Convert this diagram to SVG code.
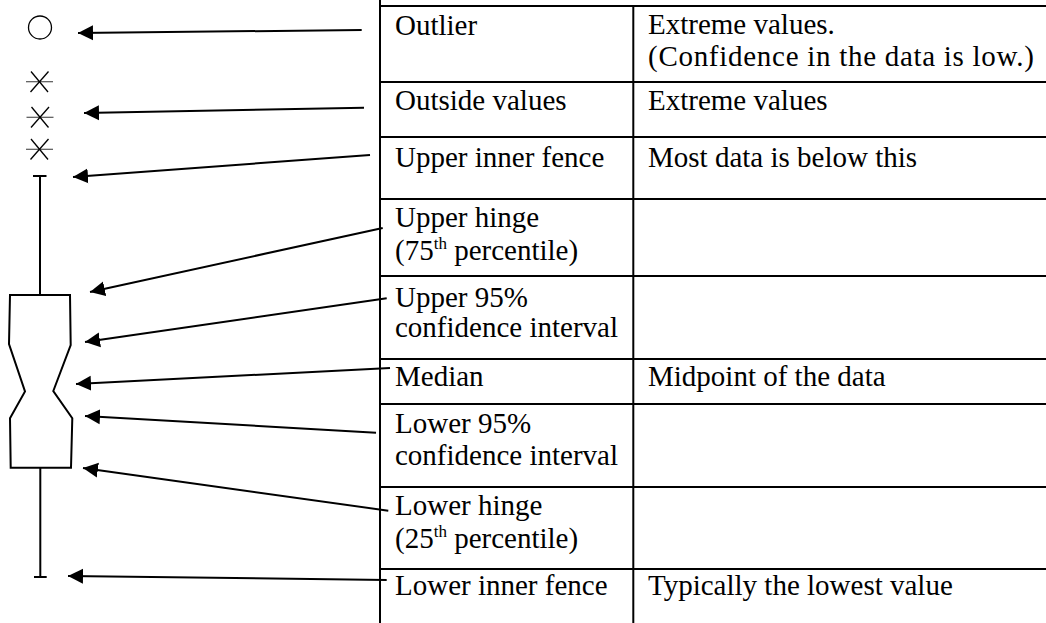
<svg xmlns="http://www.w3.org/2000/svg" width="1046" height="623" viewBox="0 0 1046 623">
<style>
text{font-family:'Liberation Serif','DejaVu Serif',serif;font-size:29px;fill:#000}
.sup{font-size:17px}
.grid{stroke:#000;stroke-width:2;fill:none}
.shape{stroke:#000;stroke-width:2;fill:none}
.thin{stroke:#000;stroke-width:1.3;fill:none}
.hz{stroke:#555;stroke-width:1.2}
.conn line{stroke:#000;stroke-width:2;marker-end:url(#ah)}
</style>
<defs>
<marker id="ah" markerUnits="userSpaceOnUse" markerWidth="16" markerHeight="16" viewBox="0 0 16 16" refX="15" refY="8" orient="auto">
<path d="M0,0.5 L15,8 L0,15.5 z" fill="#000"/>
</marker>
</defs>
<rect width="1046" height="623" fill="#fff"/>

<g id="boxplot">
<g id="outlier-symbol"><circle class="thin" cx="40" cy="27.5" r="11.5"/></g>
<g id="outside-symbols">
<g id="ast1"><line class="hz" x1="26" y1="81.7" x2="53" y2="81.7"/><line class="thin" x1="31" y1="71.5" x2="48" y2="92"/><line class="thin" x1="48.5" y1="71.5" x2="30.5" y2="92"/></g>
<g id="ast2"><line class="hz" x1="26.5" y1="117.3" x2="53.5" y2="117.3"/><line class="thin" x1="31.5" y1="107" x2="48.5" y2="127.5"/><line class="thin" x1="49" y1="107" x2="31" y2="127.5"/></g>
<g id="ast3"><line class="hz" x1="26" y1="149.3" x2="53" y2="149.3"/><line class="thin" x1="31" y1="139" x2="48" y2="159.5"/><line class="thin" x1="48.5" y1="139" x2="30.5" y2="159.5"/></g>
</g>
<g id="upper-whisker"><line class="shape" x1="33" y1="176" x2="46.5" y2="176"/><line class="shape" x1="40" y1="176" x2="40" y2="295"/></g>
<g id="notched-box"><polygon class="shape" points="10,295 70,295 70.7,345 53.3,391 72.3,418.3 71,467.7 10.7,467.7 10,418.3 25,391.5 9,344"/></g>
<g id="lower-whisker"><line class="shape" x1="40.3" y1="467.7" x2="40.3" y2="577"/><line class="shape" x1="34" y1="577" x2="46.7" y2="577"/></g>
</g>

<g id="table">
<g id="table-grid">
<line class="grid" x1="380" y1="0" x2="380" y2="623"/>
<line class="grid" x1="633.3" y1="6" x2="633.3" y2="623"/>
<line class="grid" x1="379" y1="6" x2="1046" y2="6"/>
<line class="grid" x1="380" y1="82" x2="1046" y2="82"/>
<line class="grid" x1="380" y1="137" x2="1046" y2="137"/>
<line class="grid" x1="380" y1="199" x2="1046" y2="199"/>
<line class="grid" x1="380" y1="276" x2="1046" y2="276"/>
<line class="grid" x1="380" y1="359" x2="1046" y2="359"/>
<line class="grid" x1="380" y1="404" x2="1046" y2="404"/>
<line class="grid" x1="380" y1="487" x2="1046" y2="487"/>
<line class="grid" x1="380" y1="569" x2="1046" y2="569"/>
</g>
<g id="row-outlier"><text x="395" y="35">Outlier</text><text x="648" y="33.5">Extreme values.</text><text x="648" y="65.8" textLength="386" lengthAdjust="spacing">(Confidence in the data is low.)</text></g>
<g id="row-outside"><text x="395" y="110">Outside values</text><text x="648" y="110">Extreme values</text></g>
<g id="row-upper-fence"><text x="395" y="167">Upper inner fence</text><text x="648" y="167">Most data is below this</text></g>
<g id="row-upper-hinge"><text x="395" y="227">Upper hinge</text><text x="395" y="260">(75<tspan class="sup" dy="-11">th</tspan><tspan dy="11"> percentile)</tspan></text></g>
<g id="row-upper-ci"><text x="395" y="307">Upper 95%</text><text x="395" y="337">confidence interval</text></g>
<g id="row-median"><text x="395" y="386">Median</text><text x="648" y="386">Midpoint of the data</text></g>
<g id="row-lower-ci"><text x="395" y="433">Lower 95%</text><text x="395" y="465">confidence interval</text></g>
<g id="row-lower-hinge"><text x="395" y="515">Lower hinge</text><text x="395" y="548">(25<tspan class="sup" dy="-11">th</tspan><tspan dy="11"> percentile)</tspan></text></g>
<g id="row-lower-fence"><text x="395" y="595">Lower inner fence</text><text x="648" y="595">Typically the lowest value</text></g>
</g>

<g id="connectors" class="conn">
<line x1="361.7" y1="30" x2="78" y2="33"/>
<line x1="364" y1="107.7" x2="84" y2="113"/>
<line x1="370" y1="155" x2="73" y2="177"/>
<line x1="382.7" y1="228" x2="90" y2="292"/>
<line x1="386.7" y1="298.3" x2="85" y2="342"/>
<line x1="390" y1="368" x2="76" y2="384"/>
<line x1="376" y1="432.7" x2="85" y2="416"/>
<line x1="388.3" y1="510.7" x2="83" y2="468"/>
<line x1="386.7" y1="580" x2="68" y2="576"/>
</g>
</svg>
